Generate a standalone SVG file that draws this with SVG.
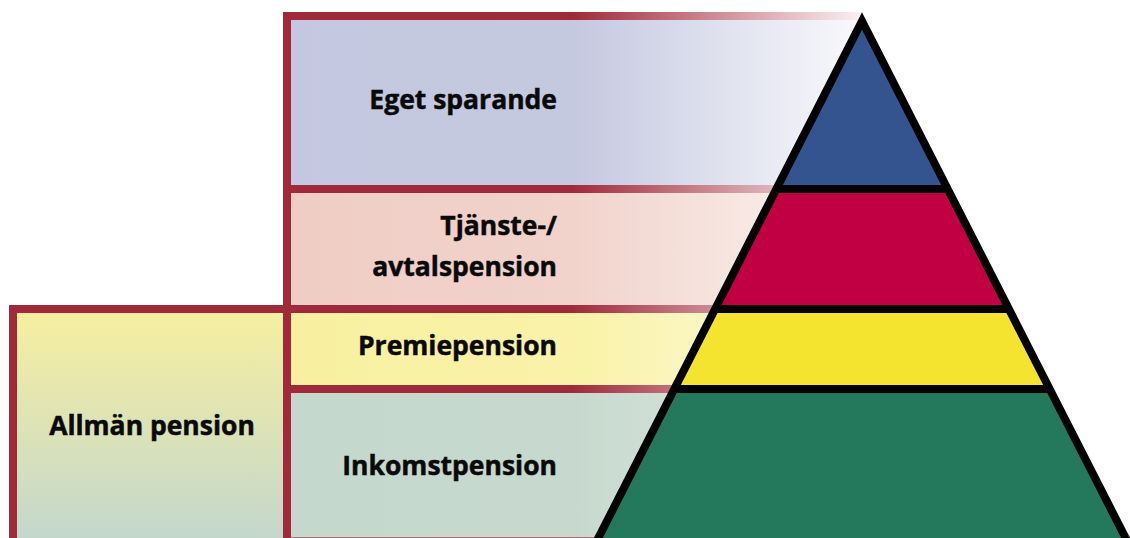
<svg xmlns="http://www.w3.org/2000/svg" width="1130" height="538" viewBox="0 0 1130 538">
  <defs>
    <linearGradient id="barGrad" gradientUnits="userSpaceOnUse" x1="283" y1="0" x2="862" y2="0">
      <stop offset="0" stop-color="#a12a3a"/>
      <stop offset="0.5" stop-color="#a12a3a"/>
      <stop offset="1" stop-color="#fbf1f2"/>
    </linearGradient>
    <linearGradient id="gEget" gradientUnits="userSpaceOnUse" x1="291" y1="0" x2="862" y2="0">
      <stop offset="0" stop-color="#c3c7df"/>
      <stop offset="0.5" stop-color="#c5c9e0"/>
      <stop offset="1" stop-color="#f9f9fc"/>
    </linearGradient>
    <linearGradient id="gTj" gradientUnits="userSpaceOnUse" x1="291" y1="0" x2="862" y2="0">
      <stop offset="0" stop-color="#efcdc5"/>
      <stop offset="0.5" stop-color="#f1d3cc"/>
      <stop offset="1" stop-color="#fcf4f1"/>
    </linearGradient>
    <linearGradient id="gPr" gradientUnits="userSpaceOnUse" x1="291" y1="0" x2="862" y2="0">
      <stop offset="0" stop-color="#f8f0a0"/>
      <stop offset="0.5" stop-color="#f9f2a8"/>
      <stop offset="1" stop-color="#fdfbe0"/>
    </linearGradient>
    <linearGradient id="gIn" gradientUnits="userSpaceOnUse" x1="291" y1="0" x2="862" y2="0">
      <stop offset="0" stop-color="#c5d8cd"/>
      <stop offset="0.5" stop-color="#c7d9ce"/>
      <stop offset="1" stop-color="#e4ece8"/>
    </linearGradient>
    <linearGradient id="gAll" gradientUnits="userSpaceOnUse" x1="0" y1="313" x2="0" y2="538">
      <stop offset="0" stop-color="#f6efa0"/>
      <stop offset="1" stop-color="#c4d7cc"/>
    </linearGradient>
  </defs>
  <style>
    .lbl { font-family: "Open Sans", "Liberation Sans", sans-serif; font-weight: 700; font-size: 26.5px; fill: #0a0a0a; stroke: #0a0a0a; stroke-width: 0.5px; }
    .bar { fill: url(#barGrad); }
    .red { fill: #a12a3a; }
    .edge { fill: none; stroke: #000; stroke-width: 8; stroke-linejoin: miter; }
  </style>

  <g id="eget-sparande">
    <rect x="291" y="20" width="571" height="165" fill="url(#gEget)"/>
    <text class="lbl" x="557" y="109" text-anchor="end">Eget sparande</text>
  </g>
  <g id="tjanstepension">
    <rect x="291" y="193" width="571" height="112" fill="url(#gTj)"/>
    <text class="lbl" x="557" y="235" text-anchor="end">Tjänste-/</text>
    <text class="lbl" x="557" y="276" text-anchor="end">avtalspension</text>
  </g>
  <g id="premiepension">
    <rect x="291" y="313" width="571" height="72" fill="url(#gPr)"/>
    <text class="lbl" x="557" y="355" text-anchor="end">Premiepension</text>
  </g>
  <g id="inkomstpension">
    <rect x="291" y="393" width="571" height="145" fill="url(#gIn)"/>
    <text class="lbl" x="557" y="475" text-anchor="end">Inkomstpension</text>
  </g>
  <g id="allman-pension">
    <rect x="17" y="313" width="266" height="225" fill="url(#gAll)"/>
    <text class="lbl" x="152" y="435" text-anchor="middle">Allmän pension</text>
  </g>

  <g id="frames">
    <rect class="bar" x="283" y="12" width="579" height="8"/>
    <rect class="bar" x="283" y="185" width="579" height="8"/>
    <rect class="bar" x="283" y="305" width="579" height="8"/>
    <rect class="bar" x="283" y="385" width="579" height="8"/>
    <rect class="bar" x="283" y="537" width="579" height="1" opacity="0.6"/>
    <rect class="red" x="9" y="305" width="282" height="8"/>
    <rect class="red" x="9" y="305" width="8" height="233"/>
    <rect class="red" x="283" y="12" width="8" height="526"/>
  </g>

  <g id="pyramid">
    <polygon points="862,21 947.7,189 776.3,189" fill="#33548f"/>
    <polygon points="776.3,189 947.7,189 1008.9,309 715.1,309" fill="#c10043"/>
    <polygon points="715.1,309 1008.9,309 1049.7,389 674.3,389" fill="#f4e32f"/>
    <polygon points="674.3,389 1049.7,389 1136.9,560 587.1,560" fill="#24795d"/>
    <polygon class="edge" points="862,21 1136.9,560 587.1,560"/>
    <line class="edge" x1="776.3" y1="189" x2="947.7" y2="189"/>
    <line class="edge" x1="715.1" y1="309" x2="1008.9" y2="309"/>
    <line class="edge" x1="674.3" y1="389" x2="1049.7" y2="389"/>
  </g>
</svg>
